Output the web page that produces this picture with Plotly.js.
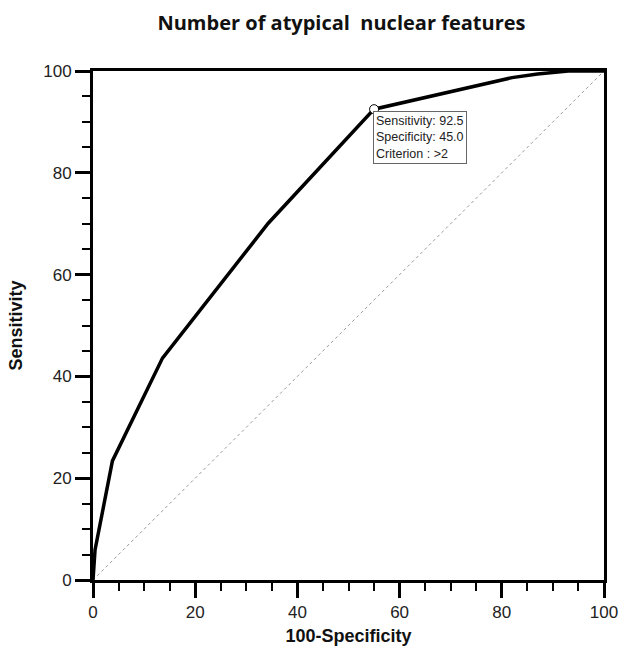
<!DOCTYPE html>
<html>
<head>
<meta charset="utf-8">
<script src="https://cdn.plot.ly/plotly-3.0.1.min.js"></script>
<style>html,body{margin:0;padding:0;background:#fff;}#chart{width:622px;height:646px;}</style>
</head>
<body>
<div id="chart"></div>
<script>
var fpr = [0, 0.4, 3.8, 13.6, 34.3, 55, 82, 87, 93, 100];
var tpr = [0, 5.9, 23.4, 43.6, 70.1, 92.5, 98.7, 99.4, 100, 100];
var refX = [0, 100];
var refY = [0, 100];
var cutX = [55];
var cutY = [92.5];
var cutLabel = "Sensitivity: 92.5<br>Specificity: 45.0<br>Criterion : >2";
var xTicks = [0, 20, 40, 60, 80, 100];
var yTicks = [0, 20, 40, 60, 80, 100];

var traces = [
  {x: refX, y: refY, mode: 'lines', line: {color: '#999', width: 1, dash: 'dot'}, hoverinfo: 'skip'},
  {x: fpr, y: tpr, mode: 'lines', line: {color: '#000', width: 3.5}},
  {x: cutX, y: cutY, mode: 'markers', marker: {symbol: 'circle', size: 9, color: '#fff', line: {color: '#000', width: 1}}}
];

var axisCommon = {
  range: [0, 100],
  showgrid: false,
  zeroline: false,
  showline: true,
  linewidth: 3,
  linecolor: '#000',
  mirror: true,
  ticks: 'outside',
  ticklen: 15,
  tickwidth: 3,
  tickcolor: '#000',
  tickfont: {family: 'Liberation Sans, Arial, sans-serif', size: 17, color: '#222'},
  minor: {dtick: 5, ticks: 'outside', ticklen: 8, tickwidth: 2, tickcolor: '#000'}
};

var layout = {
  width: 622, height: 646,
  margin: {l: 93, r: 18, t: 71, b: 66},
  paper_bgcolor: '#fff', plot_bgcolor: '#fff',
  showlegend: false,
  title: {text: 'Number of atypical  nuclear features', x: 0.549, xanchor: 'center', xref: 'container',
          y: 1 - 23 / 646, yanchor: 'middle', yref: 'container',
          font: {family: 'Open Sans, sans-serif', size: 20, color: '#111', weight: 'bold'}},
  xaxis: Object.assign({}, axisCommon, {tickvals: xTicks,
    title: {text: '<b>100-Specificity</b>', standoff: 9, font: {family: 'Liberation Sans, Arial, sans-serif', size: 18, color: '#111'}}}),
  yaxis: Object.assign({}, axisCommon, {tickvals: yTicks,
    title: {text: '<b>Sensitivity</b>', standoff: 16, font: {family: 'Liberation Sans, Arial, sans-serif', size: 18, color: '#111'}}}),
  annotations: [{
    x: 54.8, y: 92.2, xref: 'x', yref: 'y', xanchor: 'left', yanchor: 'top',
    text: cutLabel, showarrow: false, align: 'left',
    font: {family: 'Liberation Sans, Arial, sans-serif', size: 12.5, color: '#222'},
    bgcolor: '#fff', bordercolor: '#666', borderwidth: 1, borderpad: 2
  }]
};

Plotly.newPlot('chart', traces, layout, {displayModeBar: false, staticPlot: true});
</script>
</body>
</html>
